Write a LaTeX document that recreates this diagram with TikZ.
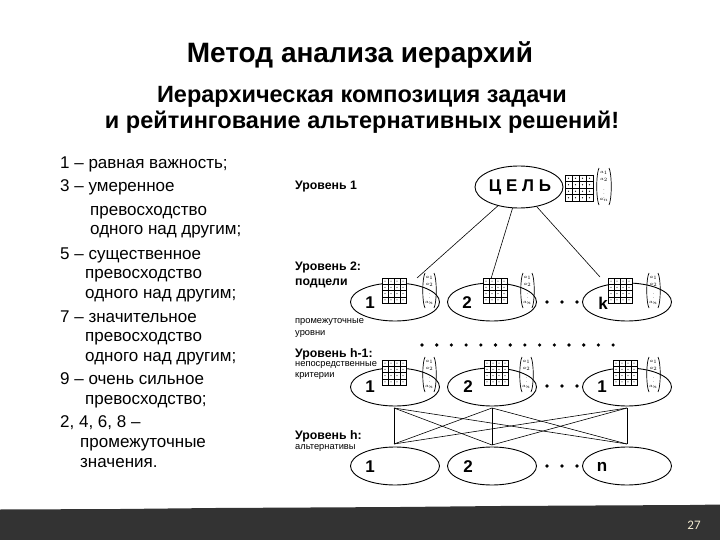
\documentclass[tikz,border=0pt]{standalone}
\usepackage{fontspec}
\setmainfont{Liberation Sans}[BoldFont={Liberation Sans Bold}]
\newfontfamily\hdfont{Liberation Sans Bold}
\newfontfamily\pnfont{Carlito}
\usetikzlibrary{shapes.geometric}
\definecolor{barcol}{HTML}{333333}
\definecolor{pncol}{HTML}{F2EAD0}
\tikzset{
  ell/.style={draw, ellipse, line width=0.9pt, minimum width=89pt, minimum height=38pt, inner sep=0pt},
  numlbl/.style={font=\fontsize{17}{17}\selectfont\bfseries, inner sep=0pt},
  lvl/.style={anchor=base west, font=\fontsize{12.3}{12.3}\selectfont\bfseries, inner sep=0pt},
  sublvl/.style={anchor=base west, font=\fontsize{9.3}{9.3}\selectfont, inner sep=0pt},
  lst/.style={anchor=base west, font=\fontsize{17}{17}\selectfont, inner sep=0pt},
  hd/.style={inner sep=0pt},
  conn/.style={line width=0.6pt},
  bigdot/.style={circle, fill, inner sep=0pt, minimum size=3.6pt},
  tiny/.style={font=\fontsize{4.5}{4.5}\selectfont, inner sep=0pt},
}
% matrix: id, x, y (top-left), cell width, cell height
\newcommand{\amatrix}[5]{%
  \fill[white] (#2,#3) rectangle ++({4*#4},{4*#5});
  \foreach \i in {0,...,4}{
    \draw[line width=0.4pt] ({#2+\i*#4},#3) -- ++(0,{4*#5});
    \draw[line width=0.4pt] (#2,{#3+\i*#5}) -- ++({4*#4},0);
  }
  \draw[line width=0.9pt] (#2,#3) rectangle ++({4*#4},{4*#5});
  \foreach \i in {0,...,3}{\foreach \j in {0,...,3}{
    \fill ({#2+(\i+0.5)*#4},{#3+(\j+0.5)*#5}) circle[radius=0.55pt];}}
}
% vector: id, x left, y top, width, height
\newcommand{\avector}[5]{%
  \draw[line width=0.7pt] ({#2+3},#3) .. controls (#2,{#3+6}) and (#2,{#3+#5-6}) .. ({#2+3},{#3+#5});
  \draw[line width=0.7pt] ({#2+#4-3},#3) .. controls ({#2+#4},{#3+6}) and ({#2+#4},{#3+#5-6}) .. ({#2+#4-3},{#3+#5});
  \node[tiny] (#1-a1) at ({#2+#4/2},{#3+5}) {$a_1$};
  \node[tiny] (#1-a2) at ({#2+#4/2},{#3+12}) {$a_2$};
  \node[tiny] (#1-ad) at ({#2+#4/2},{#3+#5/2+5}) {$\vdots$};
  \node[tiny] (#1-an) at ({#2+#4/2},{#3+#5-5}) {$a_n$};
}
\begin{document}
\begin{tikzpicture}[x=1pt,y=-1pt]
\useasboundingbox (0,0) rectangle (720,540);
\fill[white] (0,0) rectangle (720,540);

% bottom bar
\fill[barcol] (0,509.5) -- (120,509) -- (215,508) -- (310,507.5) -- (400,507) -- (500,506) -- (595,505.5) -- (690,505) -- (720,504.5) -- (720,540) -- (0,540) -- cycle;
\node[font=\pnfont\fontsize{13}{13}\selectfont, text=pncol, inner sep=0pt] (pnum) at (694,525) {27};

% titles
\node[hd, font=\hdfont\fontsize{28}{28}\selectfont] (title) at (360,55) {Метод анализа иерархий};
\node[hd, font=\hdfont\fontsize{23.5}{23.5}\selectfont] (sub1) at (362,97) {Иерархическая композиция задачи};
\node[hd, font=\hdfont\fontsize{23.5}{23.5}\selectfont] (sub2) at (362,122) {и рейтингование альтернативных решений!};

% left list
\node[lst] (l1)  at (60,169) {1 – равная важность;};
\node[lst] (l2)  at (60,192) {3 – умеренное};
\node[lst] (l3)  at (90,215) {превосходство};
\node[lst] (l4)  at (90,235) {одного над другим;};
\node[lst] (l5)  at (60,259) {5 – существенное};
\node[lst] (l6)  at (85,278) {превосходство};
\node[lst] (l7)  at (85,298) {одного над другим;};
\node[lst] (l8)  at (60,322) {7 – значительное};
\node[lst] (l9)  at (85,341) {превосходство};
\node[lst] (l10) at (85,361) {одного над другим;};
\node[lst] (l11) at (60,384) {9 – очень сильное};
\node[lst] (l12) at (85,404) {превосходство;};
\node[lst] (l13) at (60,427) {2, 4, 6, 8 –};
\node[lst] (l14) at (80,447) {промежуточные};
\node[lst] (l15) at (80,467) {значения.};

% level labels
\node[lvl] (lv1) at (295,190) {Уровень 1};
\node[lvl] (lv2) at (295,270) {Уровень 2:};
\node[lvl] (lv2b) at (295,285) {подцели};
\node[sublvl] (lvm1) at (295,323) {промежуточные};
\node[sublvl] (lvm2) at (295,335) {уровни};
\node[lvl] (lv3) at (295,357) {Уровень h-1:};
\node[sublvl] (lv3a) at (295,366) {непосредственные};
\node[sublvl] (lv3b) at (295,377) {критерии};
\node[lvl] (lv4) at (295,439) {Уровень h:};
\node[sublvl] (lv4a) at (295,449) {альтернативы};

% goal
\node[ell, minimum width=88pt, minimum height=42pt] (cel) at (519,187) {};
\node[numlbl] (cellbl) at (520,187) {Ц Е Л Ь};

% level 2
\node[ell] (e21) at (395,302) {};
\node[ell] (e22) at (492,302) {};
\node[ell] (e2k) at (627,302) {};
% level h-1
\node[ell] (e31) at (395,387) {};
\node[ell] (e32) at (492,387) {};
\node[ell] (e33) at (627,387) {};
% level h
\node[ell] (e41) at (395,466) {};
\node[ell] (e42) at (492,466) {};
\node[ell] (e4n) at (627,466) {};

% connectors goal -> subgoals
\coordinate (g1) at (417,278);
\coordinate (g2) at (490,282);
\coordinate (g3) at (600,277);
\draw[conn] (cel) -- (g1);
\draw[conn] (cel) -- (g2);
\draw[conn] (cel) -- (g3);

% matrices and vectors
\amatrix{m0}{565}{175}{7}{6.5}
\avector{v0}{596}{168}{16}{37}
\amatrix{m21}{382}{278}{6}{6.25}
\avector{v21}{422}{273}{15}{35}
\amatrix{m22}{483}{278}{6}{6.25}
\avector{v22}{520}{273}{15}{35}
\amatrix{m2k}{608}{278}{6}{6.25}
\avector{v2k}{646}{273}{15}{35}
\amatrix{m31}{382}{360}{6}{6.25}
\avector{v31}{422}{357}{15}{35}
\amatrix{m32}{484}{360}{6}{6.25}
\avector{v32}{519}{357}{15}{35}
\amatrix{m33}{613}{360}{6}{6.25}
\avector{v33}{646}{357}{15}{35}

% labels in ellipses
\node[numlbl] (t21) at (370,303) {1};
\node[numlbl] (t22) at (467,303) {2};
\node[numlbl] (t2k) at (603,303) {k};
\node[numlbl] (t31) at (370,387) {1};
\node[numlbl] (t32) at (468,387) {2};
\node[numlbl] (t33) at (602,387) {1};
\node[numlbl] (t41) at (370,467) {1};
\node[numlbl] (t42) at (468,467) {2};
\node[numlbl] (t4n) at (602,467) {n};

% dots between ellipses
\foreach \yy/\nm in {302/a,386/b,466/c}{
  \foreach \xx [count=\k] in {547,562,577}{
    \node[bigdot] (d\nm\k) at (\xx,\yy) {};
  }
}
% dotted row between levels
\foreach \k in {0,...,13}{
  \node[bigdot] (row\k) at ({422+\k*14.7},345) {};
}

% full connection between level h-1 and h
\coordinate (t1) at (394,408);
\coordinate (t2) at (492,408);
\coordinate (t3) at (627,408);
\coordinate (b1) at (394,444);
\coordinate (b2) at (492,445);
\coordinate (b3) at (627,444);
\foreach \a in {1,2,3}{\foreach \b in {1,2,3}{
  \draw[conn] (t\a) -- (b\b);
}}
\end{tikzpicture}
\end{document}
